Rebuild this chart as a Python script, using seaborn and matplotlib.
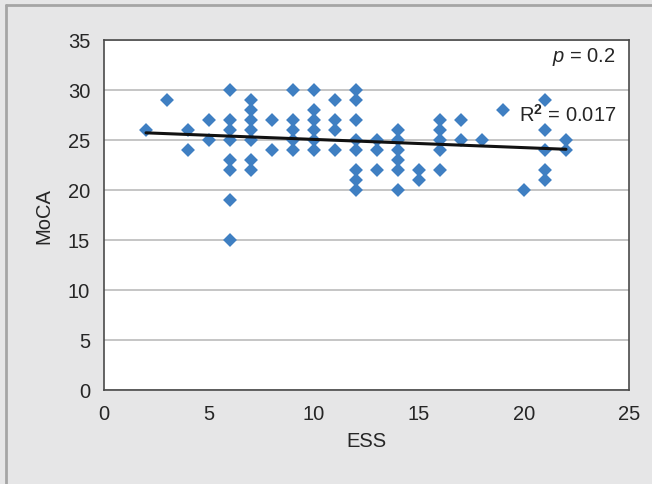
import matplotlib
matplotlib.use("Agg")
import matplotlib.pyplot as plt
import seaborn as sns
import pandas as pd
from matplotlib.lines import Line2D

ess = [2, 3, 4, 4, 5, 5,
       6, 6, 6, 6, 6, 6, 6, 6,
       7, 7, 7, 7, 7, 7, 7,
       8, 8,
       9, 9, 9, 9, 9,
       10, 10, 10, 10, 10, 10,
       11, 11, 11, 11,
       12, 12, 12, 12, 12, 12, 12, 12,
       13, 13, 13,
       14, 14, 14, 14, 14, 14,
       15, 15,
       16, 16, 16, 16, 16,
       17, 17, 18, 19, 20,
       21, 21, 21, 21, 21,
       22, 22]
moca = [26, 29, 26, 24, 27, 25,
        30, 27, 26, 25, 23, 22, 19, 15,
        29, 28, 27, 26, 25, 23, 22,
        27, 24,
        30, 27, 26, 25, 24,
        30, 28, 27, 26, 25, 24,
        29, 27, 26, 24,
        30, 29, 27, 25, 24, 22, 21, 20,
        25, 24, 22,
        26, 25, 24, 23, 22, 20,
        22, 21,
        27, 26, 25, 24, 22,
        27, 25, 25, 28, 20,
        29, 26, 24, 22, 21,
        25, 24]
x_ticks = [0, 5, 10, 15, 20, 25]
y_ticks = [0, 5, 10, 15, 20, 25, 30, 35]
p_text = "$\\mathit{p}$ = 0.2"
r2_text = "R$^\\mathbf{2}$ = 0.017"

df = pd.DataFrame({"ESS": ess, "MoCA": moca})

sns.set_style("white")
plt.rcParams["font.family"] = ["Liberation Sans", "DejaVu Sans"]
plt.rcParams["mathtext.fontset"] = "custom"
plt.rcParams["mathtext.rm"] = "Liberation Sans"
plt.rcParams["mathtext.it"] = "Liberation Sans:italic"
plt.rcParams["mathtext.bf"] = "Liberation Sans:bold"

bg = "#e6e6e7"
txt = "#262626"
fig = plt.figure(figsize=(6.52, 4.85), dpi=100, facecolor=bg)
ax = fig.add_axes([104/652, 1-391/485, (629-104)/652, (391-41)/485])
ax.set_facecolor("white")

sns.regplot(data=df, x="ESS", y="MoCA", ax=ax, ci=None, marker="D",
            scatter_kws=dict(s=50, color="#3f7fc2", edgecolor="none", zorder=3, alpha=1),
            line_kws=dict(color="#111111", lw=2.2, zorder=4))

ax.set_xlim(0, 25)
ax.set_ylim(0, 35)
ax.set_xticks(x_ticks)
ax.set_yticks(y_ticks)
ax.yaxis.grid(True, color="#b5b5b5", lw=1.1)
ax.set_axisbelow(True)
for s in ax.spines.values():
    s.set_color("#4a4a4a")
    s.set_linewidth(1.2)
    s.set_visible(True)
ax.tick_params(axis="both", direction="out", length=6, width=1.1, color="#4a4a4a",
               labelsize=14.5, labelcolor=txt, pad=4)
ax.set_xlabel("ESS", fontsize=14.5, color=txt, labelpad=6)
ax.set_ylabel("MoCA", fontsize=14.5, color=txt, labelpad=10)

ax.text(0.975, 0.955, p_text, transform=ax.transAxes, ha="right", va="center",
        fontsize=14.5, color=txt)
ax.text(0.975, 0.79, r2_text, transform=ax.transAxes, ha="right", va="center",
        fontsize=14.5, color=txt, zorder=5)

fig.add_artist(Line2D([6/652, 1], [1-6/485, 1-6/485], transform=fig.transFigure,
                      color="#a5a5a5", lw=2))
fig.add_artist(Line2D([6/652, 6/652], [0, 1-6/485], transform=fig.transFigure,
                      color="#a5a5a5", lw=2))

fig.savefig("out.png", dpi=100, facecolor=bg)
